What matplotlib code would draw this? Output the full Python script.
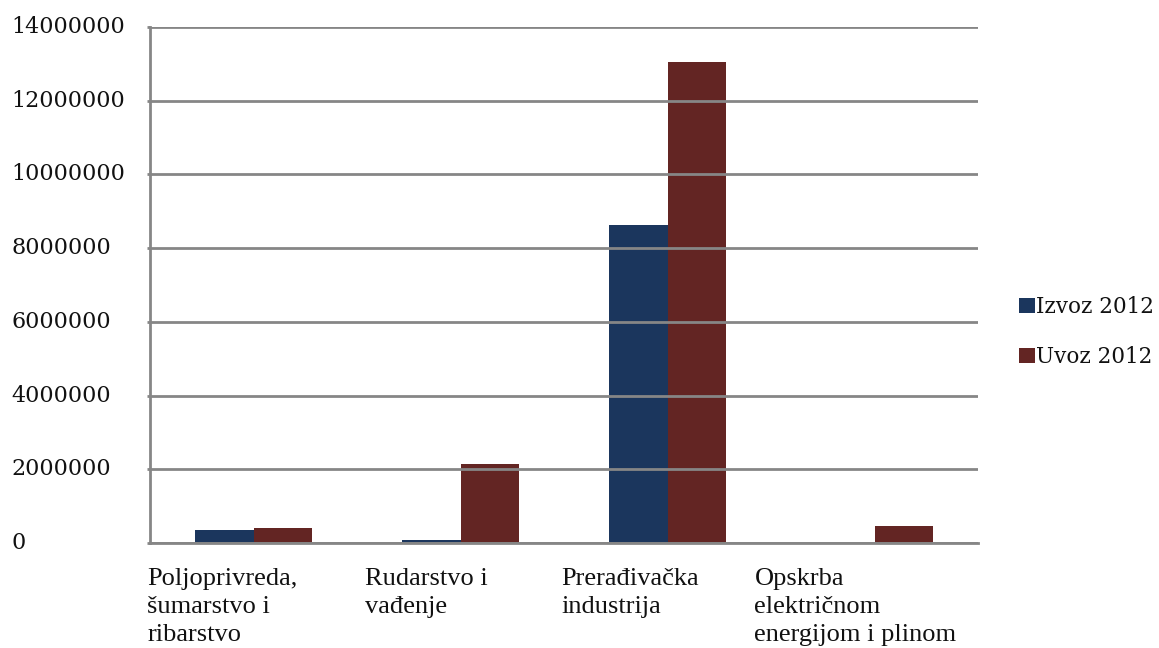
import matplotlib
matplotlib.use("Agg")
import matplotlib.pyplot as plt
import numpy as np

categories = ["Poljoprivreda,\nšumarstvo i\nribarstvo",
              "Rudarstvo i\nvađenje",
              "Prerađivačka\nindustrija",
              "Opskrba\nelektričnom\nenergijom i plinom"]
izvoz_2012 = [364000, 73000, 8640000, 10000]
uvoz_2012 = [418000, 2130000, 13040000, 453000]
series_names = ["Izvoz 2012", "Uvoz 2012"]
y_ticks = [0, 2000000, 4000000, 6000000, 8000000, 10000000, 12000000, 14000000]
y_tick_labels = [str(v) for v in y_ticks]

# layout / style (not data)
label_offsets = [-0.513, -0.46, -0.513, -0.58]
blue = "#1b365d"
red = "#632523"
grid_gray = "#868686"

W, H = 1159, 648
fig = plt.figure(figsize=(W / 100, H / 100), dpi=100)
ax = fig.add_axes([150 / W, 1 - 543 / H, (978 - 150) / W, (543 - 27) / H])

x = np.arange(len(categories))
bw = 0.285
ax.bar(x - bw / 2, izvoz_2012, width=bw, color=blue, label=series_names[0], zorder=1)
ax.bar(x + bw / 2, uvoz_2012, width=bw, color=red, label=series_names[1], zorder=1)

ax.set_xlim(-0.5, len(categories) - 0.5)
ax.set_ylim(0, 14000000)
ax.set_axisbelow(False)
ax.yaxis.grid(True, color=grid_gray, linewidth=2.0, zorder=2.5)
ax.xaxis.grid(False)

for s in ["top", "right"]:
    ax.spines[s].set_visible(False)
for s in ["left", "bottom"]:
    ax.spines[s].set_color(grid_gray)
    ax.spines[s].set_linewidth(2.0)
    ax.spines[s].set_zorder(3)

ax.set_xticks([])
ax.set_yticks(y_ticks)
ax.set_yticklabels(y_tick_labels, family="DejaVu Serif", fontsize=16, color="#111111")
ax.tick_params(axis="y", length=2, width=2, color=grid_gray, pad=(138 - 2) * 0.72)
for lbl in ax.get_yticklabels():
    lbl.set_horizontalalignment("left")
    lbl.set_verticalalignment("center")

for i, (cat, off) in enumerate(zip(categories, label_offsets)):
    ax.annotate(cat, xy=(i + off, 0), xycoords=("data", "axes fraction"),
                xytext=(0, -25), textcoords="offset pixels",
                ha="left", va="top", family="Liberation Serif", fontsize=19,
                linespacing=1.36, color="#111111", annotation_clip=False)

leg = fig.legend(loc="center left", bbox_to_anchor=(1019 / W, 1 - 332 / H),
                 frameon=False, prop={"family": "DejaVu Serif", "size": 15.5},
                 handlelength=0.75, handleheight=0.75, handletextpad=0.05,
                 labelspacing=1.3, borderpad=0, borderaxespad=0)
for t in leg.get_texts():
    t.set_color("#111111")

fig.savefig("out.png", dpi=100)
